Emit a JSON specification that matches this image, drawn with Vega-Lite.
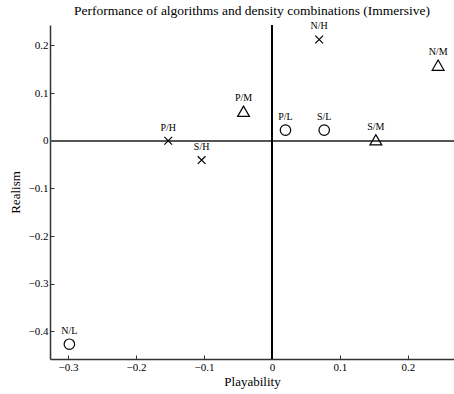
{
  "$schema": "https://vega.github.io/schema/vega-lite/v6.json",
  "width": 404,
  "height": 334,
  "autosize": "none",
  "padding": {"left": 50, "top": 25, "right": 0, "bottom": 35},
  "background": "white",
  "config": {
    "view": {"stroke": null},
    "font": "Liberation Serif"
  },
  "title": {
    "text": "Performance of algorithms and density combinations (Immersive)",
    "font": "Liberation Serif",
    "fontSize": 13.5,
    "fontWeight": "normal",
    "color": "black",
    "offset": 4
  },
  "data": {
    "values": [
      {"playability": -0.298, "realism": -0.427, "label": "N/L", "type": "L"},
      {"playability": 0.020, "realism": 0.0224, "label": "P/L", "type": "L"},
      {"playability": 0.077, "realism": 0.0224, "label": "S/L", "type": "L"},
      {"playability": -0.0417, "realism": 0.062, "label": "P/M", "type": "M"},
      {"playability": 0.153, "realism": 0.002, "label": "S/M", "type": "M"},
      {"playability": 0.2446, "realism": 0.1587, "label": "N/M", "type": "M"},
      {"playability": -0.1525, "realism": 0.0, "label": "P/H", "type": "H"},
      {"playability": -0.1034, "realism": -0.0405, "label": "S/H", "type": "H"},
      {"playability": 0.0696, "realism": 0.2126, "label": "N/H", "type": "H"}
    ]
  },
  "encoding": {
    "x": {
      "field": "playability", "type": "quantitative",
      "scale": {"domain": [-0.3265, 0.268], "nice": false, "zero": false},
      "axis": {
        "title": "Playability", "values": [-0.3, -0.2, -0.1, 0, 0.1, 0.2], "format": ".1~f",
        "grid": false, "domainColor": "#333333", "domainWidth": 1.5, "tickColor": "#333333",
        "tickSize": -4, "labelPadding": 6, "labelFont": "Liberation Serif", "labelFontSize": 11,
        "labelColor": "black", "titleFont": "Liberation Serif", "titleFontSize": 13,
        "titleFontWeight": "normal", "titleColor": "black", "titlePadding": 3
      }
    },
    "y": {
      "field": "realism", "type": "quantitative",
      "scale": {"domain": [-0.458, 0.243], "nice": false, "zero": false},
      "axis": {
        "title": "Realism", "values": [-0.4, -0.3, -0.2, -0.1, 0, 0.1, 0.2], "format": ".1~f",
        "grid": false, "domainColor": "#333333", "domainWidth": 1.5, "tickColor": "#333333",
        "tickSize": -4, "labelPadding": 6, "labelFont": "Liberation Serif", "labelFontSize": 11,
        "labelColor": "black", "titleFont": "Liberation Serif", "titleFontSize": 13,
        "titleFontWeight": "normal", "titleColor": "black", "titlePadding": 6
      }
    }
  },
  "layer": [
    {
      "mark": {"type": "rule", "color": "#555555", "strokeWidth": 1.5},
      "encoding": {"x": null, "y": {"datum": 0, "type": "quantitative"}}
    },
    {
      "mark": {"type": "rule", "color": "black", "strokeWidth": 1},
      "encoding": {"y": null, "x": {"datum": 0, "type": "quantitative"}}
    },
    {
      "transform": [{"filter": "datum.type === 'L'"}],
      "mark": {"type": "point", "shape": "circle", "size": 110, "filled": false, "stroke": "black", "strokeWidth": 1.2, "opacity": 1}
    },
    {
      "transform": [{"filter": "datum.type === 'M'"}],
      "mark": {"type": "point", "shape": "triangle-up", "size": 140, "filled": false, "stroke": "black", "strokeWidth": 1.2, "opacity": 1}
    },
    {
      "transform": [{"filter": "datum.type === 'H'"}],
      "mark": {"type": "point", "shape": "M-1,-1L1,1M-1,1L1,-1", "size": 60, "filled": false, "stroke": "black", "strokeWidth": 1.2, "opacity": 1}
    },
    {
      "mark": {"type": "text", "dy": -13, "baseline": "middle", "align": "center", "font": "Liberation Serif", "fontSize": 10, "color": "black"},
      "encoding": {"text": {"field": "label"}}
    }
  ]
}
